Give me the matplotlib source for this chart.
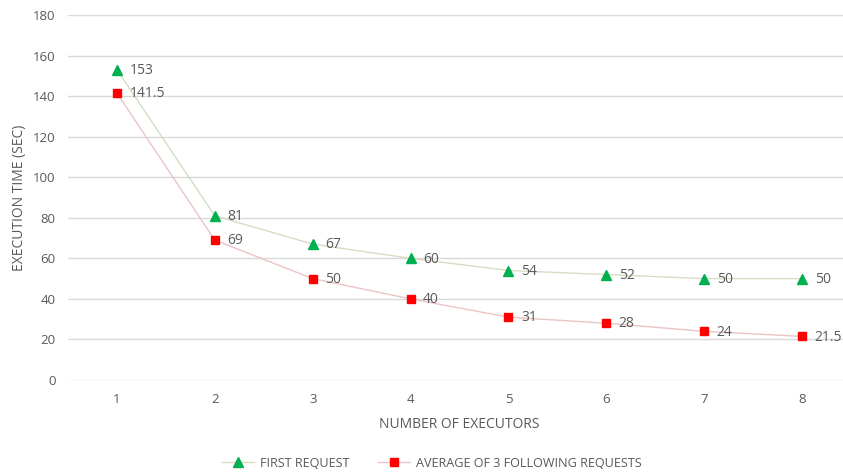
import matplotlib as mpl
mpl.use("Agg")
import matplotlib.pyplot as plt
from matplotlib.lines import Line2D

mpl.rcParams["font.family"] = ["Open Sans", "DejaVu Sans"]

# ─── Data ────────────────────────────────────────────────────────────────────
executors = [1, 2, 3, 4, 5, 6, 7, 8]
first_request = [153, 81, 67, 60, 54, 52, 50, 50]
avg_following = [141.5, 69, 50, 40, 31, 28, 24, 21.5]
series_names = ["FIRST REQUEST", "AVERAGE OF 3 FOLLOWING REQUESTS"]

# ─── Style ───────────────────────────────────────────────────────────────────
TXT = "#595959"
GRID = "#d9d9d9"
COL_G_MARK = "#00b050"
COL_G_LINE = "#d8dcc2"
COL_R_MARK = "#ff0000"
COL_R_LINE = "#ebc4c4"

fig = plt.figure(figsize=(8.43, 4.73), dpi=100)
ax = fig.add_axes([68 / 843, 1 - 380 / 473, 783 / 843, 365 / 473])

ax.plot(executors, first_request, color=COL_G_LINE, lw=1.0, zorder=2)
ax.plot(executors, first_request, ls="none", marker="^", ms=7,
        color=COL_G_MARK, zorder=3)
ax.plot(executors, avg_following, color=COL_R_LINE, lw=1.0, zorder=2)
ax.plot(executors, avg_following, ls="none", marker="s", ms=6,
        color=COL_R_MARK, zorder=3)

for xv, yv in zip(executors, first_request):
    ax.annotate(f"{yv:g}", (xv, yv), xytext=(9, -0.5), textcoords="offset points",
                ha="left", va="center", fontsize=10, color=TXT)
for xv, yv in zip(executors, avg_following):
    ax.annotate(f"{yv:g}", (xv, yv), xytext=(9, -0.5), textcoords="offset points",
                ha="left", va="center", fontsize=10, color=TXT)

ax.set_xlim(0.5, 8.5)
ax.set_ylim(0, 180)
ax.set_yticks(range(0, 181, 20))
ax.set_xticks(executors)
ax.yaxis.grid(True, color=GRID, lw=1.0)
ax.set_axisbelow(True)
for s in ax.spines.values():
    s.set_visible(False)
ax.tick_params(length=0, labelsize=9.5, colors=TXT)
ax.tick_params(axis="x", pad=9)
ax.tick_params(axis="y", pad=9)

ax.set_ylabel("EXECUTION TIME (SEC)", fontsize=10, color=TXT, labelpad=4)
ax.set_xlabel("NUMBER OF EXECUTORS", fontsize=10, color=TXT, labelpad=8)

handles = [
    Line2D([0], [0], color=COL_G_LINE, lw=1.0, marker="^", ms=7,
           markerfacecolor=COL_G_MARK, markeredgecolor=COL_G_MARK),
    Line2D([0], [0], color=COL_R_LINE, lw=1.0, marker="s", ms=6,
           markerfacecolor=COL_R_MARK, markeredgecolor=COL_R_MARK),
]
fig.legend(handles, series_names, loc="center", bbox_to_anchor=(432 / 843, 1 - 463 / 473),
           ncol=2, frameon=False, fontsize=9.1, labelcolor=TXT,
           handlelength=2.5, columnspacing=2.3, handletextpad=0.5)

fig.savefig("out.png", dpi=100)
